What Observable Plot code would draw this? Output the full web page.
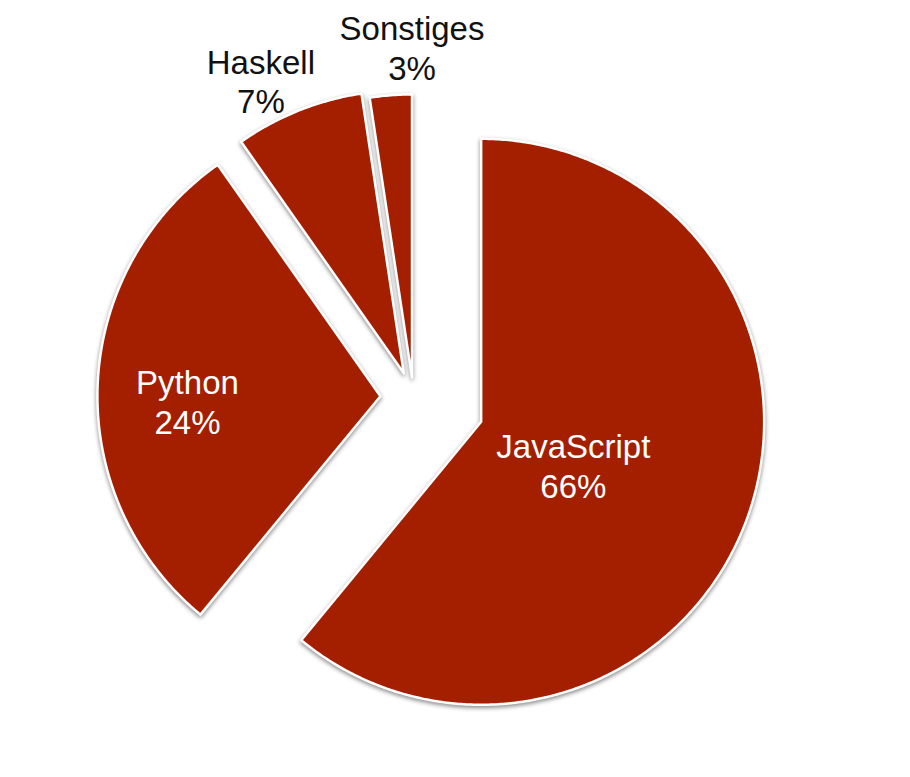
<!DOCTYPE html>
<html>
<head>
<meta charset="utf-8">
<script src="https://cdn.jsdelivr.net/npm/d3@7"></script>
<script src="https://cdn.jsdelivr.net/npm/@observablehq/plot@0.6"></script>
<style>
  html, body { margin: 0; padding: 0; background: #ffffff; }
  #chart svg { display: block; }
  #chart g[aria-label="line"] { filter: drop-shadow(0px 2px 2px rgba(0,0,0,0.45)); }
</style>
</head>
<body>
<div id="chart"></div>
<script>
// ---- data ----
const names = ["JavaScript", "Python", "Haskell", "Sonstiges"];
// share of the circle each slice covers in the drawing (percent)
const shares = [60.97, 29.28, 7.36, 2.39];
// percentages printed in the labels
const pctLabels = ["66%", "24%", "7%", "3%"];
const insideLabel = [true, true, false, false];

// ---- layout (not data) ----
const W = 910, H = 777;
const R = 283;                 // pie radius in px
const C = [413, 397];          // common pie centre in px
const explode = [0.254, 0.117, 0.092, 0.071];   // offset along mid angle, in radii
const labelPos = [             // label radius (radii) and angle shift (deg) from mid angle
  {r: 0.36, dA: 5.5},
  {r: 0.682, dA: -3.7},
  {r: 1.15, dA: -4.2},
  {r: 1.166, dA: 4.3}
];
const sliceColor = "#a31f00";

const arcs = d3.pie().sort(null).value(d => d)(shares);
const rad = Math.PI / 180;

const pts = [];
const labels = [];
arcs.forEach((a, i) => {
  const mid = (a.startAngle + a.endAngle) / 2;
  const ox = explode[i] * Math.sin(mid), oy = explode[i] * Math.cos(mid);
  pts.push({name: names[i], x: ox, y: oy});
  const n = Math.max(4, Math.ceil((a.endAngle - a.startAngle) / (0.5 * rad)));
  for (let k = 0; k <= n; k++) {
    const t = a.startAngle + (a.endAngle - a.startAngle) * k / n;
    pts.push({name: names[i], x: ox + Math.sin(t), y: oy + Math.cos(t)});
  }
  pts.push({name: names[i], x: ox, y: oy});
  const la = mid + labelPos[i].dA * rad;
  labels.push({
    text: names[i] + "\n" + pctLabels[i],
    x: ox + labelPos[i].r * Math.sin(la),
    y: oy + labelPos[i].r * Math.cos(la),
    inside: insideLabel[i]
  });
});

const textOpts = {
  x: "x", y: "y", text: "text",
  fontSize: 33, lineHeight: 1.2,
  fontFamily: "'Liberation Sans', Arial, Helvetica, sans-serif",
  textAnchor: "middle"
};

const chart = Plot.plot({
  width: W, height: H, margin: 0,
  style: {background: "white", overflow: "visible"},
  x: {domain: [-C[0] / R, (W - C[0]) / R], axis: null},
  y: {domain: [(C[1] - H) / R, C[1] / R], axis: null},
  marks: [
    Plot.line(pts, {
      x: "x", y: "y", z: "name",
      fill: sliceColor, stroke: "white", strokeWidth: 2.5,
      strokeLinejoin: "miter", strokeMiterlimit: 10, curve: "linear"
    }),
    Plot.text(labels.filter(d => d.inside), {...textOpts, fill: "white"}),
    Plot.text(labels.filter(d => !d.inside), {...textOpts, fill: "#111111"})
  ]
});
document.getElementById("chart").appendChild(chart);
</script>
</body>
</html>
